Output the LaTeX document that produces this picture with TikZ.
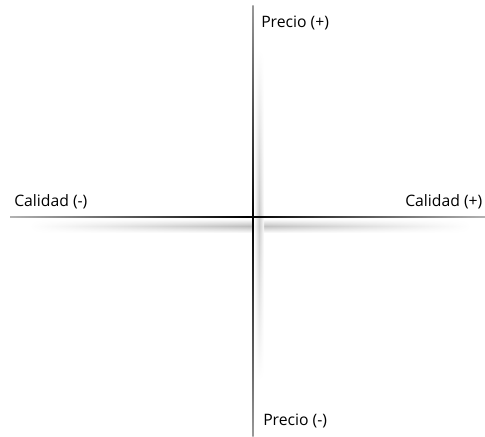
\documentclass[tikz,border=0pt]{standalone}
\usepackage{fontspec}
\setmainfont{Open Sans}
\usetikzlibrary{fadings}
\tikzfading[name=fadesidesh, left color=transparent!100, right color=transparent!100, middle color=transparent!0]
\tikzfading[name=fadesidesv, top color=transparent!100, bottom color=transparent!100, middle color=transparent!0]
\begin{document}
\begin{tikzpicture}[x=0.75pt,y=-0.75pt,
  lbl/.style={font=\fontsize{11.8}{14}\selectfont, inner sep=0pt, anchor=base west}]
\useasboundingbox (0,0) rectangle (485,436);
% shadows
\shade[top color=white, bottom color=white, middle color=black!25, path fading=fadesidesh] (30,219) rectangle (470,233);
\shade[left color=white, right color=white, middle color=black!20, path fading=fadesidesv] (254,50) rectangle (264,380);
% axes
\coordinate (hl) at (10,217);
\coordinate (hr) at (485,217);
\coordinate (vt) at (253,5);
\coordinate (vb) at (253,436);
\shade[left color=black!30, right color=black!30, middle color=black] (10,216.3) rectangle (485,217.7);
\shade[top color=black!40, bottom color=black!40, middle color=black] (252.3,5) rectangle (253.7,436);
% labels
\node[lbl] (pmas) at (261,27) {Precio (+)};
\node[lbl] (cmenos) at (14,206) {Calidad (-)};
\node[lbl] (cmas) at (405,206) {Calidad (+)};
\node[lbl] (pmenos) at (263,425) {Precio (-)};
\end{tikzpicture}
\end{document}
